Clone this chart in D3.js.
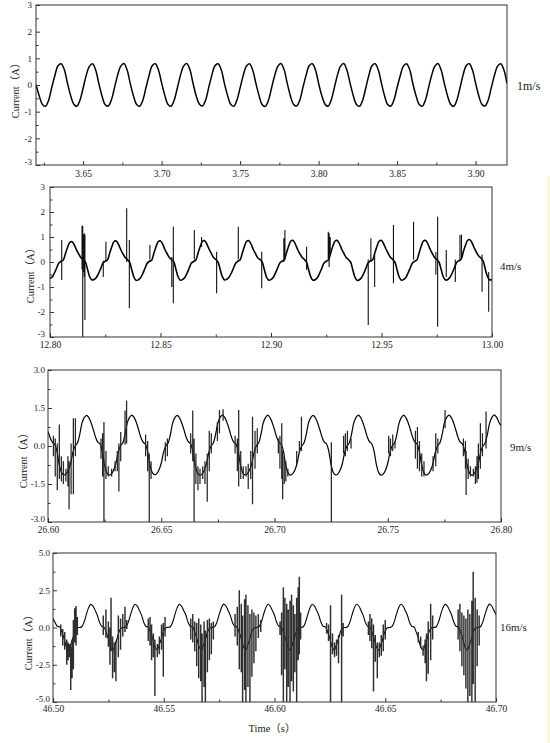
<!DOCTYPE html>
<html lang="en">
<head>
<meta charset="UTF-8">
<title>Current waveforms</title>
<script src="https://d3js.org/d3.v7.min.js"></script>
<style>
  body { margin: 0; background: #fff; }
  svg text { font-family: "Liberation Serif", "Noto Sans CJK SC", serif; fill: #222; }
</style>
</head>
<body>
<svg id="chart" width="550" height="743"></svg>
<script>
// ---- data: sampled waveform (start time, step, values) + noise [t, low, high] ----

// 1 m/s
var p1Start = 3.620, p1Step = 0.002;
var p1Values = [
  0.02, -0.40, -0.72, -0.80, -0.58, -0.10, 0.35, 0.72, 0.80, 0.58,
  0.08, -0.38, -0.71, -0.80, -0.57, -0.12, 0.36, 0.70, 0.80, 0.56,
  0.06, -0.40, -0.73, -0.79, -0.56, -0.10, 0.37, 0.71, 0.81, 0.57,
  0.07, -0.39, -0.72, -0.80, -0.58, -0.11, 0.35, 0.72, 0.80, 0.56,
  0.08, -0.38, -0.72, -0.80, -0.57, -0.12, 0.36, 0.71, 0.81, 0.58,
  0.07, -0.40, -0.71, -0.79, -0.57, -0.10, 0.37, 0.72, 0.80, 0.57,
  0.06, -0.39, -0.72, -0.80, -0.56, -0.11, 0.36, 0.71, 0.80, 0.56,
  0.08, -0.38, -0.73, -0.80, -0.58, -0.12, 0.35, 0.70, 0.81, 0.58,
  0.07, -0.40, -0.72, -0.79, -0.57, -0.10, 0.36, 0.72, 0.80, 0.57,
  0.06, -0.39, -0.71, -0.80, -0.57, -0.11, 0.37, 0.71, 0.81, 0.56,
  0.08, -0.38, -0.72, -0.80, -0.58, -0.12, 0.36, 0.72, 0.80, 0.57,
  0.07, -0.40, -0.73, -0.79, -0.56, -0.10, 0.35, 0.71, 0.80, 0.58,
  0.06, -0.39, -0.72, -0.80, -0.57, -0.11, 0.36, 0.70, 0.81, 0.57,
  0.08, -0.38, -0.71, -0.80, -0.58, -0.12, 0.37, 0.72, 0.80, 0.56,
  0.07, -0.40, -0.72, -0.79, -0.57, -0.10, 0.36, 0.71, 0.80, 0.57,
  0.05
];
var p1Noise = [];
var p1XTicks = [3.65, 3.70, 3.75, 3.80, 3.85, 3.90];
var p1YTicks = [-3, -2, -1, 0, 1, 2, 3];

// 4 m/s
var p2Start = 12.800, p2Step = 0.001;
var p2Values = [
  -0.66, -0.60, -0.44, -0.24, -0.04, 0.03, 0.08, 0.34, 0.60, 0.79, 0.81, 0.68, 0.48, 0.32, 0.17, 0.10, 0.00, -0.30, -0.60, -0.72,
  -0.70, -0.62, -0.45, -0.25, -0.04, 0.03, 0.08, 0.35, 0.62, 0.82, 0.84, 0.70, 0.50, 0.33, 0.18, 0.10, 0.00, -0.31, -0.61, -0.74,
  -0.71, -0.63, -0.46, -0.25, -0.05, 0.03, 0.07, 0.35, 0.62, 0.82, 0.84, 0.71, 0.50, 0.33, 0.18, 0.09, 0.01, -0.30, -0.60, -0.73,
  -0.70, -0.62, -0.45, -0.24, -0.04, 0.02, 0.08, 0.36, 0.63, 0.83, 0.85, 0.71, 0.51, 0.34, 0.18, 0.10, 0.00, -0.30, -0.59, -0.72,
  -0.69, -0.61, -0.45, -0.25, -0.05, 0.03, 0.08, 0.35, 0.63, 0.83, 0.85, 0.71, 0.50, 0.33, 0.17, 0.10, 0.00, -0.31, -0.61, -0.73,
  -0.70, -0.62, -0.44, -0.24, -0.04, 0.03, 0.09, 0.37, 0.64, 0.84, 0.86, 0.72, 0.51, 0.34, 0.19, 0.11, 0.01, -0.30, -0.60, -0.73,
  -0.71, -0.63, -0.45, -0.25, -0.04, 0.03, 0.08, 0.36, 0.64, 0.84, 0.86, 0.72, 0.51, 0.34, 0.18, 0.10, 0.00, -0.31, -0.61, -0.74,
  -0.71, -0.62, -0.45, -0.24, -0.03, 0.04, 0.09, 0.37, 0.64, 0.84, 0.86, 0.72, 0.52, 0.35, 0.19, 0.11, 0.01, -0.30, -0.60, -0.73,
  -0.70, -0.62, -0.44, -0.24, -0.04, 0.03, 0.08, 0.36, 0.64, 0.84, 0.86, 0.72, 0.51, 0.34, 0.18, 0.10, 0.00, -0.30, -0.60, -0.72,
  -0.70, -0.61, -0.44, -0.23, -0.02, 0.05, 0.11, 0.40, 0.67, 0.87, 0.89, 0.76, 0.56, 0.38, 0.24, 0.16, 0.04, -0.30, -0.60, -0.72,
  -0.70
];
var p2Noise = [
  [12.8053, -0.72, 0.88],
  [12.8145, -0.30, 1.45], [12.8148, -3.00, 1.45], [12.8151, -0.40, 1.10],
  [12.8155, -0.60, 1.15], [12.8158, -2.32, 1.10],
  [12.8241, -0.60, 0.05], [12.8253, 0.00, 0.81],
  [12.8347, 0.00, 2.15], [12.8359, -1.85, 0.88],
  [12.8452, 0.10, 0.68],
  [12.8551, -1.00, 0.20], [12.8558, -1.65, 1.41],
  [12.8653, 0.10, 1.28], [12.8686, 0.60, 1.00],
  [12.8754, -1.25, 0.41],
  [12.8852, 0.10, 1.41],
  [12.8958, -1.05, 0.41],
  [12.9058, 0.00, 0.95], [12.9063, 0.10, 1.28],
  [12.9161, -0.32, 0.61],
  [12.9259, 0.10, 1.21], [12.9263, -0.20, 1.15], [12.9268, 0.30, 1.00],
  [12.9440, -2.52, 0.10], [12.9452, 0.00, 0.95], [12.9469, -1.00, 0.30],
  [12.9554, -0.85, 1.48],
  [12.9645, 0.10, 1.61],
  [12.9746, -0.50, 0.40], [12.9754, -2.59, 1.81], [12.9793, -0.60, 0.48],
  [12.9834, -0.80, 0.10], [12.9855, 0.10, 1.08], [12.9862, 0.20, 1.10],
  [12.9955, -1.19, 0.30], [12.9985, -1.99, -0.40]
];
var p2XTicks = [12.80, 12.85, 12.90, 12.95, 13.00];
var p2YTicks = [-3, -2, -1, 0, 1, 2, 3];

// 9 m/s
var p3Start = 26.600, p3Step = 0.001;
var p3Values = [
  0.57, 0.32, 0.14, 0.07, -0.22, -0.75, -1.05, -1.14, -1.10, -0.95, -0.68, -0.25, 0.00, 0.12, 0.45, 0.90, 1.12, 1.21, 1.12, 0.92,
  0.65, 0.35, 0.15, 0.08, -0.23, -0.76, -1.06, -1.15, -1.10, -0.95, -0.67, -0.24, 0.01, 0.12, 0.46, 0.91, 1.13, 1.22, 1.13, 0.93,
  0.64, 0.34, 0.15, 0.07, -0.22, -0.74, -1.04, -1.13, -1.09, -0.94, -0.68, -0.25, 0.00, 0.11, 0.44, 0.89, 1.12, 1.21, 1.12, 0.92,
  0.65, 0.35, 0.16, 0.08, -0.23, -0.76, -1.06, -1.15, -1.11, -0.96, -0.69, -0.26, 0.00, 0.12, 0.46, 0.91, 1.13, 1.23, 1.13, 0.93,
  0.66, 0.35, 0.15, 0.08, -0.22, -0.75, -1.05, -1.14, -1.10, -0.95, -0.68, -0.25, 0.01, 0.12, 0.45, 0.90, 1.12, 1.22, 1.12, 0.92,
  0.64, 0.34, 0.15, 0.07, -0.23, -0.76, -1.06, -1.15, -1.10, -0.95, -0.67, -0.24, 0.00, 0.12, 0.45, 0.90, 1.12, 1.21, 1.12, 0.92,
  0.65, 0.35, 0.15, 0.08, -0.22, -0.75, -1.05, -1.14, -1.10, -0.95, -0.68, -0.25, 0.00, 0.12, 0.46, 0.91, 1.13, 1.22, 1.13, 0.93,
  0.65, 0.35, 0.16, 0.08, -0.22, -0.74, -1.05, -1.15, -1.11, -0.96, -0.68, -0.25, 0.01, 0.12, 0.45, 0.90, 1.12, 1.22, 1.12, 0.92,
  0.64, 0.34, 0.15, 0.07, -0.23, -0.76, -1.06, -1.15, -1.10, -0.95, -0.68, -0.24, 0.00, 0.12, 0.45, 0.91, 1.13, 1.22, 1.13, 0.93,
  0.65, 0.35, 0.15, 0.08, -0.22, -0.75, -1.05, -1.15, -1.11, -0.96, -0.69, -0.26, 0.00, 0.12, 0.46, 0.91, 1.13, 1.23, 1.14, 0.95,
  0.80
];
var p3Noise = [
  [26.6024, -0.40, 0.40], [26.6032, -1.20, 0.30], [26.6041, -1.75, 0.10], [26.6050, -1.30, 0.85],
  [26.6059, -1.40, -0.40], [26.6068, -1.50, -0.60], [26.6079, -1.40, -0.90], [26.6088, -1.60, -0.40],
  [26.6093, -2.50, -0.60], [26.6102, -1.90, 0.10], [26.6112, -1.90, 1.10], [26.6121, -0.40, 1.10],
  [26.6234, -0.50, 0.30], [26.6241, -1.20, 0.50], [26.6247, -3.00, 0.95], [26.6256, -1.30, -0.20],
  [26.6266, -1.20, -0.80], [26.6281, -1.20, -0.90], [26.6296, -1.00, -0.60], [26.6306, -1.00, -0.20],
  [26.6313, -1.80, 0.10], [26.6321, -0.60, 0.55], [26.6340, 0.05, 1.40], [26.6347, 0.10, 1.80],
  [26.6431, -0.40, 0.45], [26.6440, -1.00, 0.20], [26.6447, -3.00, -0.30], [26.6455, -1.30, -0.60],
  [26.6518, -0.60, 0.15], [26.6527, -0.40, 0.30],
  [26.6630, -0.30, 0.50], [26.6639, -0.60, 1.40], [26.6645, -3.00, 0.30], [26.6653, -1.50, -0.30],
  [26.6662, -1.75, -0.80], [26.6671, -1.50, -0.90], [26.6683, -1.30, -0.80], [26.6693, -1.50, -0.60],
  [26.6703, -2.20, -0.30], [26.6712, -1.00, 0.60], [26.6721, -0.30, 0.50],
  [26.6748, 0.20, 0.95], [26.6757, 0.50, 1.42], [26.6773, 1.00, 1.45],
  [26.6826, -0.30, 0.40], [26.6836, -1.00, 0.30], [26.6842, -1.60, 1.42], [26.6851, -1.30, -0.20],
  [26.6862, -1.30, -0.80], [26.6874, -1.20, -0.80], [26.6884, -1.70, -0.70], [26.6895, -1.30, -0.20],
  [26.6903, -2.30, 1.15], [26.6914, -0.90, 0.60], [26.6924, -0.30, 0.70],
  [26.7017, -0.30, 0.30], [26.7024, -0.90, 0.40], [26.7032, -1.30, 0.90], [26.7036, -2.10, -0.20],
  [26.7043, -1.50, -0.40], [26.7050, -1.40, -0.60], [26.7059, -1.20, -0.90],
  [26.7098, -0.70, -0.20], [26.7110, -0.30, 0.20], [26.7119, -0.20, 1.15],
  [26.7251, -3.00, 0.15],
  [26.7305, -0.30, 0.40], [26.7313, -0.40, 0.50], [26.7322, -0.20, 0.60], [26.7338, -0.10, 0.30],
  [26.7504, -0.30, 0.40], [26.7512, -0.40, 0.30], [26.7522, -0.20, 0.45], [26.7532, -0.10, 0.20],
  [26.7622, -0.50, 0.60], [26.7631, -0.90, 0.75], [26.7640, -1.00, 0.20], [26.7650, -1.20, -0.30],
  [26.7660, -1.20, -0.60], [26.7700, -1.00, -0.40], [26.7712, -0.80, 0.50], [26.7721, -0.30, 0.30],
  [26.7753, 0.70, 1.42],
  [26.7834, -0.40, 0.30], [26.7843, -0.90, 0.20], [26.7846, -1.93, -0.20], [26.7855, -1.30, -0.50],
  [26.7865, -1.20, -0.80], [26.7878, -1.20, -0.90], [26.7887, -1.50, -0.80], [26.7894, -1.45, -0.40],
  [26.7900, -1.30, 0.10], [26.7909, -0.90, 0.90], [26.7918, -0.40, 0.50], [26.7934, -0.10, 1.36]
];
var p3XTicks = [26.60, 26.65, 26.70, 26.75, 26.80];
var p3YTicks = [-3, -1.5, 0, 1.5, 3];

// 16 m/s
var p4Start = 46.500, p4Step = 0.001;
var p4Values = [
  0.60, 0.32, 0.08, 0.04, -0.30, -0.75, -1.28, -1.50, -1.15, -0.70, -0.20, -0.02, 0.00, 0.05, 0.35, 0.85, 1.30, 1.55, 1.45, 1.15,
  0.82, 0.35, 0.08, 0.03, -0.31, -0.76, -1.30, -1.52, -1.16, -0.71, -0.21, -0.02, 0.00, 0.05, 0.36, 0.86, 1.31, 1.56, 1.45, 1.15,
  0.81, 0.34, 0.07, 0.04, -0.30, -0.75, -1.29, -1.51, -1.15, -0.70, -0.20, -0.01, 0.01, 0.05, 0.35, 0.85, 1.30, 1.55, 1.44, 1.14,
  0.82, 0.35, 0.08, 0.04, -0.31, -0.76, -1.31, -1.53, -1.16, -0.71, -0.21, -0.02, 0.00, 0.06, 0.36, 0.86, 1.31, 1.57, 1.46, 1.16,
  0.83, 0.35, 0.08, 0.03, -0.30, -0.75, -1.30, -1.52, -1.15, -0.70, -0.20, -0.02, 0.00, 0.05, 0.35, 0.85, 1.30, 1.56, 1.45, 1.15,
  0.82, 0.34, 0.08, 0.04, -0.31, -0.76, -1.30, -1.52, -1.16, -0.71, -0.21, -0.02, 0.01, 0.05, 0.36, 0.86, 1.31, 1.56, 1.45, 1.15,
  0.82, 0.35, 0.08, 0.04, -0.30, -0.75, -1.29, -1.51, -1.15, -0.70, -0.20, -0.01, 0.00, 0.05, 0.35, 0.85, 1.30, 1.56, 1.46, 1.16,
  0.83, 0.35, 0.09, 0.04, -0.30, -0.76, -1.30, -1.52, -1.16, -0.71, -0.21, -0.02, 0.00, 0.06, 0.36, 0.86, 1.31, 1.56, 1.45, 1.15,
  0.82, 0.34, 0.08, 0.03, -0.31, -0.75, -1.30, -1.52, -1.15, -0.70, -0.20, -0.02, 0.00, 0.05, 0.35, 0.85, 1.30, 1.55, 1.45, 1.15,
  0.82, 0.35, 0.08, 0.04, -0.30, -0.76, -1.31, -1.53, -1.16, -0.71, -0.21, -0.02, 0.00, 0.05, 0.36, 0.86, 1.31, 1.57, 1.46, 1.16,
  0.85
];
var p4Noise = [
  [46.5035, -0.60, 0.20], [46.5044, -1.20, -0.10], [46.5053, -1.50, -0.30], [46.5062, -2.50, -0.80],
  [46.5068, -2.20, -1.00], [46.5074, -2.00, -1.10], [46.5080, -4.20, -1.30], [46.5086, -3.40, -0.80],
  [46.5092, -2.80, 0.50], [46.5098, -1.00, 1.30], [46.5104, -1.20, 1.45], [46.5110, -0.50, 0.70],
  [46.5227, -0.50, 0.80], [46.5239, -0.70, 1.20], [46.5250, -1.30, 0.40], [46.5257, -2.50, 0.00],
  [46.5262, -1.60, 2.00], [46.5269, -3.40, -0.60], [46.5277, -3.00, -1.00], [46.5284, -3.60, -0.90],
  [46.5295, -2.00, 0.80], [46.5305, -1.50, 0.60], [46.5315, -0.60, 0.90], [46.5325, -0.30, 1.40],
  [46.5333, -0.10, 0.50],
  [46.5430, -0.90, 0.60], [46.5438, -1.20, 0.70], [46.5445, -2.20, 0.20], [46.5453, -2.00, -0.40],
  [46.5460, -4.60, -0.80], [46.5471, -2.00, -1.10], [46.5480, -1.80, -0.60], [46.5490, -1.50, 0.20],
  [46.5498, -3.30, 0.30], [46.5506, -0.60, 0.70],
  [46.5622, -0.80, 0.60], [46.5631, -1.00, 0.90], [46.5640, -1.60, 0.40], [46.5649, -2.60, 0.30],
  [46.5658, -3.40, 0.60], [46.5667, -3.60, 0.20], [46.5673, -5.00, -0.40], [46.5682, -4.00, 0.40],
  [46.5688, -5.00, -0.20], [46.5697, -3.00, 0.50], [46.5706, -2.20, 0.60], [46.5715, -1.80, 0.30],
  [46.5724, -0.80, 0.40],
  [46.5822, -0.60, 0.90], [46.5832, -1.20, 1.40], [46.5841, -2.80, 2.50], [46.5850, -3.00, 1.60],
  [46.5856, -5.00, 0.80], [46.5865, -4.20, 1.90], [46.5871, -5.00, 2.20], [46.5880, -4.00, 1.50],
  [46.5889, -5.00, 0.90], [46.5898, -3.30, 1.20], [46.5907, -2.40, 1.00], [46.5916, -1.60, 0.80],
  [46.5927, -0.70, 0.90], [46.5938, -0.30, 0.50],
  [46.6025, -0.50, 0.40], [46.6032, -3.20, 1.00], [46.6040, -5.00, 2.70], [46.6047, -2.80, 2.00],
  [46.6055, -5.00, 1.60], [46.6062, -4.00, 1.20], [46.6070, -5.00, 1.80], [46.6077, -3.60, 2.20],
  [46.6085, -4.30, 1.50], [46.6092, -3.00, 0.90], [46.6100, -5.00, 2.00], [46.6107, -2.20, 2.70],
  [46.6112, -1.80, 3.40], [46.6118, -0.80, 1.00],
  [46.6235, -0.40, 0.30], [46.6244, -0.90, 0.20], [46.6253, -5.00, 1.50], [46.6262, -1.80, -0.40],
  [46.6271, -2.00, -1.00], [46.6280, -1.90, -0.80], [46.6289, -2.40, -0.50], [46.6303, -5.00, 2.20],
  [46.6310, -0.60, 0.30],
  [46.6424, -0.50, 0.40], [46.6431, -0.90, 0.90], [46.6439, -1.40, 0.60], [46.6447, -4.30, 0.20],
  [46.6455, -2.30, -0.50], [46.6464, -3.40, -1.00], [46.6473, -2.00, -1.00], [46.6482, -1.90, -0.50],
  [46.6491, -1.60, 0.20], [46.6500, -0.80, 0.50],
  [46.6649, -1.00, -0.30], [46.6660, -1.40, -0.60], [46.6671, -1.90, -1.20], [46.6680, -2.40, -0.80],
  [46.6686, -3.60, -0.40], [46.6694, -3.10, 0.40], [46.6705, -2.20, 1.60], [46.6714, -0.80, 0.80],
  [46.6829, -0.80, 1.20], [46.6837, -1.60, 1.60], [46.6846, -2.60, 1.00], [46.6855, -3.20, 0.80],
  [46.6864, -4.10, 0.60], [46.6873, -5.00, 1.20], [46.6882, -4.60, 0.90], [46.6891, -5.00, 1.80],
  [46.6897, -3.80, 3.75], [46.6906, -5.00, 2.00], [46.6915, -2.60, 1.20], [46.6924, -1.20, 0.80]
];
var p4XTicks = [46.50, 46.55, 46.60, 46.65, 46.70];
var p4YTicks = [-5, -2.5, 0, 2.5, 5];

var speedLabels = ['1m/s', '4m/s', '9m/s', '16m/s'];

// ---- layout ----
var panels = [
  { start: p1Start, step: p1Step, values: p1Values, noise: p1Noise, xTicks: p1XTicks, yTicks: p1YTicks,
    xDomain: [3.62, 3.92], yDomain: [-3, 3], yFmt: 'd',
    box: { l: 36, r: 507, t: 5, b: 165 }, lw: 1.5, nw: 1, nc: '#222', xPad: 5, yPad: 4,
    label: { x: 517, y: 90, size: 12 }, title: { x: 15, y: 88 } },
  { start: p2Start, step: p2Step, values: p2Values, noise: p2Noise, xTicks: p2XTicks, yTicks: p2YTicks,
    xDomain: [12.80, 13.00], yDomain: [-3, 3], yFmt: 'd',
    box: { l: 50, r: 492, t: 187, b: 337 }, lw: 1.6, nw: 1.1, nc: '#111', xPad: 4, yPad: 5,
    label: { x: 500, y: 270, size: 11 }, title: { x: 30, y: 273 } },
  { start: p3Start, step: p3Step, values: p3Values, noise: p3Noise, xTicks: p3XTicks, yTicks: p3YTicks,
    xDomain: [26.60, 26.80], yDomain: [-3, 3], yFmt: '.1f',
    box: { l: 48, r: 501, t: 370, b: 522 }, lw: 1.2, nw: 1.25, nc: '#262626', xPad: 4, yPad: 3,
    label: { x: 510, y: 451, size: 11 }, title: { x: 23, y: 458 } },
  { start: p4Start, step: p4Step, values: p4Values, noise: p4Noise, xTicks: p4XTicks, yTicks: p4YTicks,
    xDomain: [46.50, 46.70], yDomain: [-5, 5], yFmt: '.1f',
    box: { l: 53, r: 496, t: 553, b: 702 }, lw: 1.1, nw: 1.45, nc: '#2e2e2e', xPad: 3, yPad: 3,
    label: { x: 500, y: 631, size: 11 }, title: { x: 28, y: 640 } }
];

var svg = d3.select('#chart');

// faint yellow scan edge on the right of the original
svg.append('line')
  .attr('x1', 548.5).attr('x2', 548.5).attr('y1', 176).attr('y2', 743)
  .attr('stroke', '#fbf1c6').attr('stroke-width', 1.5);

function minorTicks(major, domain) {
  var step = major[1] - major[0], out = [];
  for (var i = -1; i < major.length; i++) {
    var m = i < 0 ? major[0] - step / 2 : major[i] + step / 2;
    if (m > domain[0] + 1e-9 && m < domain[1] - 1e-9) out.push(m);
  }
  return out;
}

// each noise sample is a vertical stroke from its low to its high value
function noisePath(noise, x, y) {
  return noise.map(function (n) {
    return 'M' + x(n[0]) + ',' + y(n[1]) + 'V' + y(n[2]);
  }).join('');
}

function plainMinus(fmt) {
  var f = d3.format(fmt);
  return function (d) { return f(d).replace('\u2212', '-'); };
}

panels.forEach(function (p, k) {
  var x = d3.scaleLinear().domain(p.xDomain).range([p.box.l, p.box.r]);
  var y = d3.scaleLinear().domain(p.yDomain).range([p.box.b, p.box.t]);

  svg.append('clipPath').attr('id', 'clip' + k)
    .append('rect')
    .attr('x', p.box.l).attr('y', p.box.t)
    .attr('width', p.box.r - p.box.l).attr('height', p.box.b - p.box.t);

  var plot = svg.append('g').attr('clip-path', 'url(#clip' + k + ')');

  var pts = p.values.map(function (v, i) { return [p.start + i * p.step, v]; });
  var line = d3.line()
    .x(function (d) { return x(d[0]); })
    .y(function (d) { return y(d[1]); })
    .curve(d3.curveCatmullRom.alpha(0.5));

  plot.append('path')
    .attr('d', line(pts))
    .attr('fill', 'none')
    .attr('stroke', '#000')
    .attr('stroke-width', p.lw)
    .attr('stroke-linejoin', 'round');

  if (p.noise.length) {
    plot.append('path')
      .attr('d', noisePath(p.noise, x, y))
      .attr('fill', 'none')
      .attr('stroke', p.nc)
      .attr('stroke-width', p.nw);
  }

  // axes, ticks pointing inward
  var gx = svg.append('g').attr('transform', 'translate(0,' + p.box.b + ')')
    .call(d3.axisBottom(x).tickValues(p.xTicks).tickSize(-4).tickPadding(p.xPad)
      .tickFormat(d3.format('.2f')));
  svg.append('g').attr('transform', 'translate(0,' + p.box.b + ')')
    .call(d3.axisBottom(x).tickValues(minorTicks(p.xTicks, p.xDomain)).tickSize(-2.5).tickFormat(''))
    .select('.domain').remove();

  var gy = svg.append('g').attr('transform', 'translate(' + p.box.l + ',0)')
    .call(d3.axisLeft(y).tickValues(p.yTicks).tickSize(-4).tickPadding(p.yPad)
      .tickFormat(plainMinus(p.yFmt)));
  svg.append('g').attr('transform', 'translate(' + p.box.l + ',0)')
    .call(d3.axisLeft(y).tickValues(minorTicks(p.yTicks, p.yDomain)).tickSize(-2.5).tickFormat(''))
    .select('.domain').remove();

  [gx, gy].forEach(function (g) {
    g.select('.domain').remove();
    g.attr('font-family', null).attr('font-size', null);
  });
  gx.selectAll('text').attr('font-size', '9.5px');
  gy.selectAll('text').attr('font-size', '9px');
  // lowest y label sits a little above its tick, clear of the first x label
  gy.selectAll('.tick text').filter(function (d) { return d === p.yDomain[0]; })
    .attr('y', -3.5);
  svg.selectAll('.tick line').attr('stroke', '#333');

  // frame
  svg.append('rect')
    .attr('x', p.box.l).attr('y', p.box.t)
    .attr('width', p.box.r - p.box.l).attr('height', p.box.b - p.box.t)
    .attr('fill', 'none').attr('stroke', '#333').attr('stroke-width', 1);

  // y title
  svg.append('text')
    .attr('transform', 'translate(' + p.title.x + ',' + p.title.y + ') rotate(-90)')
    .attr('text-anchor', 'middle')
    .attr('dy', '0.35em')
    .attr('font-size', '10.5px')
    .text('Current（A）');

  // speed label
  svg.append('text')
    .attr('x', p.label.x).attr('y', p.label.y)
    .attr('font-size', p.label.size + 'px')
    .text(speedLabels[k]);
});

svg.append('text')
  .attr('x', 272).attr('y', 732)
  .attr('text-anchor', 'middle')
  .attr('font-size', '10.5px')
  .text('Time（s）');
</script>
</body>
</html>
